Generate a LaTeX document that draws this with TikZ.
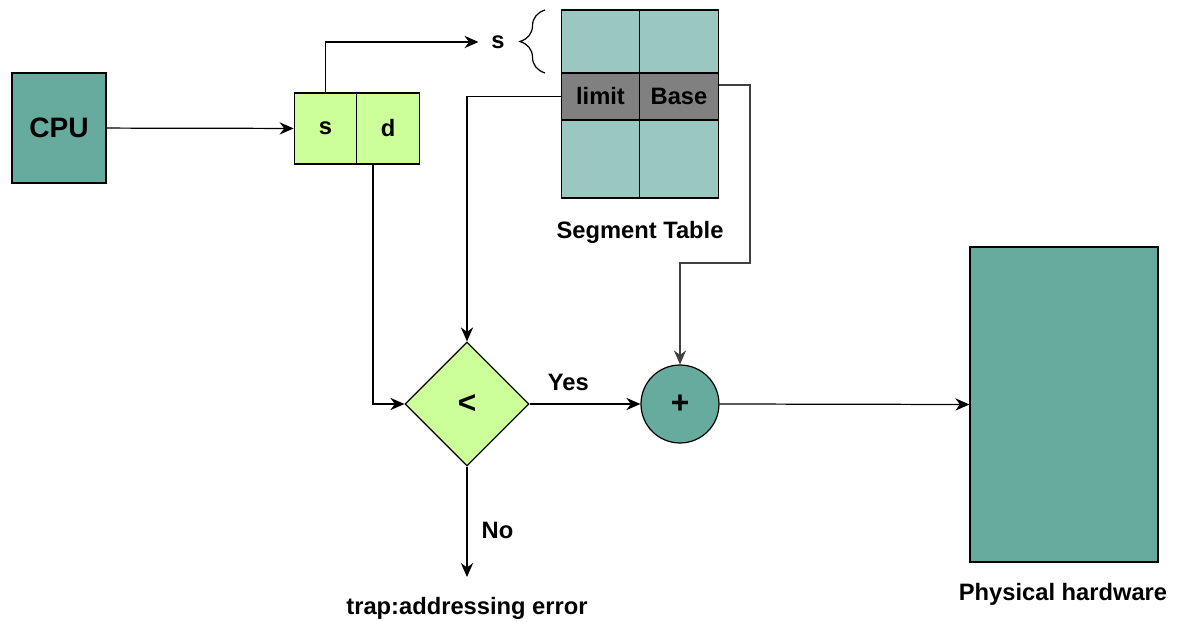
\documentclass[tikz,border=0pt]{standalone}
\usepackage{fontspec}
\setmainfont{Liberation Sans}
\usetikzlibrary{arrows.meta,shapes.geometric,decorations.pathreplacing}

\definecolor{darkteal}{HTML}{67AB9F}
\definecolor{lightteal}{HTML}{9AC7BF}
\definecolor{lightgreen}{HTML}{CCFF99}

\begin{document}
\begin{tikzpicture}
	[x=0.02cm, y=-0.02cm, line width=0.7pt, >={Stealth[length=8pt,width=7pt]},
	font=\fontsize{13.5}{16}\selectfont\bfseries,
	every node/.style={inner sep=2pt},
	field/.style={draw,fill=lightgreen,minimum width=1.25cm,minimum height=1.42cm},
	entry/.style={draw,fill=lightteal,minimum width=1.57cm},
	chosen/.style={draw,fill=black!50,minimum width=1.57cm,minimum height=0.94cm},
	op/.style={draw,font=\fontsize{18}{20}\selectfont\bfseries}]
	\useasboundingbox (0,0) rectangle (1178,622);
	% processor and logical address
	\node (cpu) [draw,fill=darkteal,minimum width=1.88cm,minimum height=2.2cm,
		font=\fontsize{16}{19}\selectfont\bfseries] at (59,128) {CPU};
	\node (s) [field] at (325.5,128.5) {s};
	\node (d) [field] at (388,128.5) {d};
	\node (sidx) [inner sep=7pt] at (498,42) {s};
	% segment table
	\node (e1) [entry,minimum height=1.26cm] at (600.5,41.5) {};
	\node (e2) [entry,minimum height=1.26cm] at (679,41.5) {};
	\node (limit) [chosen] at (600.5,96.5) {limit};
	\node (base) [chosen] at (679,96.5) {Base};
	\node (e3) [entry,minimum height=1.56cm] at (600.5,159) {};
	\node (e4) [entry,minimum height=1.56cm] at (679,159) {};
	\node (tab) at (640,232) {Segment Table};
	\draw [decorate,decoration={brace,amplitude=0.5cm}] (545,73) -- (545,10);
	% check and add
	\node (cmp) [op,diamond,fill=lightgreen,aspect=1,inner sep=0pt,
		minimum width=2.48cm,minimum height=2.48cm] at (467,404) {<};
	\node (add) [op,circle,fill=darkteal,minimum size=1.56cm] at (680,404) {+};
	\node (mem) [draw,fill=darkteal,minimum width=3.76cm,minimum height=6.3cm] at (1064,404.5) {};
	\node (hw) at (1063,594) {Physical hardware};
	\node (trap) at (467,608) {trap:addressing error};
	\coordinate (trapin) at (467,577);
	\coordinate (bend) at (750,263);
	% connectors
	\draw [->] (cpu) -- (s);
	\draw [->] (s.north) |- (sidx.west);
	\draw [->] (limit.west) -| (cmp.north);
	\draw [->] ([xshift=-0.3cm]d.south) |- (cmp.west);
	\draw [->,draw=black!75] ([yshift=0.23cm]base.east) -| (bend) -| (add.north);
	\draw [->] (cmp.east) -- node [above,pos=.35,yshift=5pt] {Yes} (add.west);
	\draw [->] (add.east) -- (mem.west);
	\draw [->] (cmp.south) -- node [right,pos=.58,xshift=6pt] {No} (trapin);
\end{tikzpicture}
\end{document}
